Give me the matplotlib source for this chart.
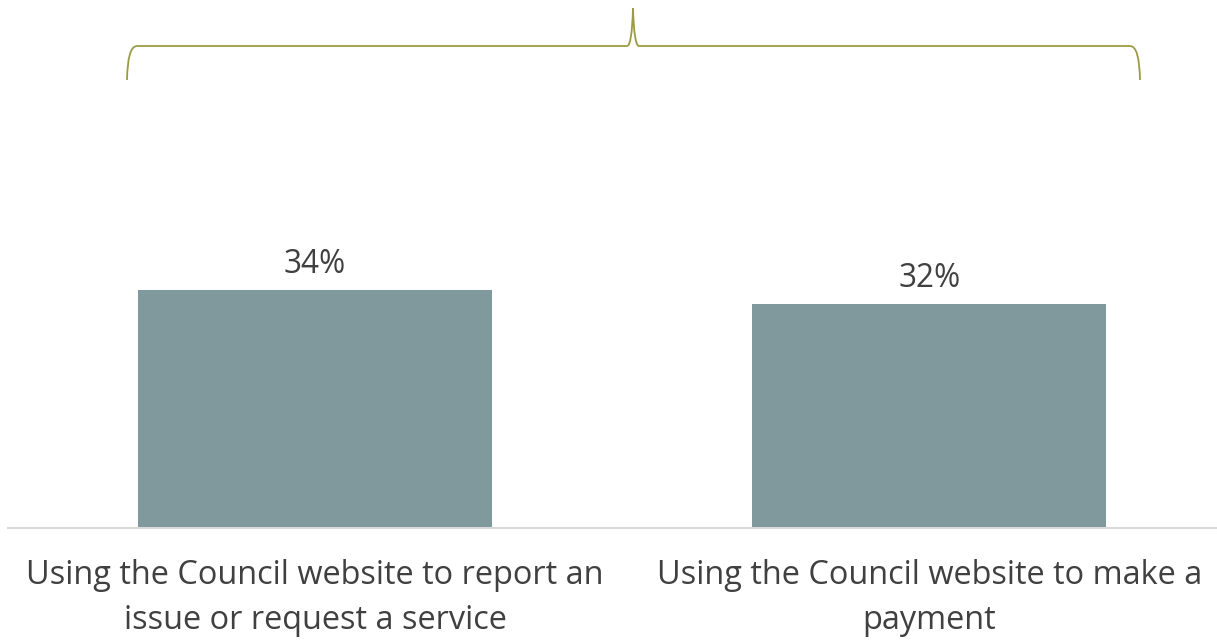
import matplotlib.pyplot as plt
from matplotlib.path import Path
from matplotlib.patches import PathPatch

# survey results
categories = ['Using the Council website to report an\nissue or request a service',
              'Using the Council website to make a\npayment']
values = [34, 32]

BAR = '#7F999C'
TEXT = '#404040'
BRACE = '#9C9B45'

plt.rcParams['font.family'] = ['Open Sans', 'DejaVu Sans']

fig = plt.figure(figsize=(12.17, 6.42), dpi=100)
ax = fig.add_axes([8 / 1217, 114 / 642, 1 - 8 / 1217, 1 - 114 / 642])

x = range(len(values))
ax.bar(x, values, width=0.576, color=BAR)
for xi, v in zip(x, values):
    ax.text(xi, v + 1.3, f'{v}%', ha='center', va='bottom', fontsize=22.8, color=TEXT)

ax.set_xlim(-0.4996, 1.468)
ax.set_ylim(0, 75.4)
ax.set_xticks(list(x))
ax.set_xticklabels(categories, fontsize=23.4, color=TEXT, linespacing=1.5)
ax.tick_params(axis='x', length=0, pad=22)
ax.set_yticks([])
for side in ['top', 'right', 'left']:
    ax.spines[side].set_visible(False)
ax.spines['bottom'].set_color('#D9D9D9')
ax.spines['bottom'].set_linewidth(1.5)

# curly brace across both bars, drawn in pixel space on an overlay
ov = fig.add_axes([0, 0, 1, 1], facecolor='none')
ov.set_xlim(0, 1217)
ov.set_ylim(642, 0)
ov.axis('off')
verts = [(127, 80), (127.5, 46), (137, 46),
         (627, 46),
         (632, 46), (633, 8),
         (634, 46), (639, 46),
         (1130, 46),
         (1139.5, 46), (1140, 80)]
codes = [Path.MOVETO, Path.CURVE3, Path.CURVE3,
         Path.LINETO,
         Path.CURVE3, Path.CURVE3,
         Path.CURVE3, Path.CURVE3,
         Path.LINETO,
         Path.CURVE3, Path.CURVE3]
ov.add_patch(PathPatch(Path(verts, codes), fill=False, edgecolor=BRACE, linewidth=1.3))

fig.savefig('out.png', dpi=100)
